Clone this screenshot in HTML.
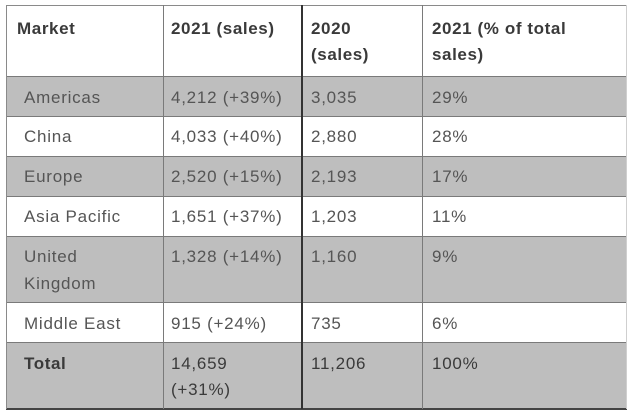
<!DOCTYPE html>
<html>
<head>
<meta charset="utf-8">
<style>
html,body{margin:0;padding:0;background:#fff;}
body{width:636px;height:415px;position:relative;overflow:hidden;font-family:"Liberation Sans",sans-serif;}
.r{position:absolute;left:7px;width:619px;}
.g{background:#bebebe;}
.h{position:absolute;left:6px;width:621px;height:1px;background:#7a7a7a;}
.v{position:absolute;width:1px;background:#7a7a7a;}
.t{position:absolute;font-size:17px;line-height:26px;letter-spacing:0.75px;color:#555;white-space:nowrap;}
.b{font-weight:bold;color:#3a3a3a;letter-spacing:0.6px;}
.d{color:#3a3a3a;}
</style>
</head>
<body>
<!-- row fills -->
<div class="r g" style="top:76px;height:40px;"></div>
<div class="r g" style="top:156px;height:40px;"></div>
<div class="r g" style="top:236px;height:66px;"></div>
<div class="r g" style="top:342px;height:66px;"></div>

<!-- horizontal lines -->
<div class="h" style="top:5px;background:#8a8a8a;"></div>
<div class="h" style="top:76px;"></div>
<div class="h" style="top:116px;"></div>
<div class="h" style="top:156px;"></div>
<div class="h" style="top:196px;"></div>
<div class="h" style="top:236px;"></div>
<div class="h" style="top:302px;"></div>
<div class="h" style="top:342px;"></div>
<div class="h" style="top:408px;height:2px;background:#444;"></div>

<!-- vertical lines -->
<div class="v" style="left:6px;top:5px;height:404px;background:#8a8a8a;"></div>
<div class="v" style="left:163px;top:5px;height:404px;"></div>
<div class="v" style="left:301px;top:5px;height:404px;width:2px;background:#333;"></div>
<div class="v" style="left:422px;top:5px;height:404px;"></div>
<div class="v" style="left:626px;top:5px;height:404px;background:#cfcfcf;"></div>

<!-- header -->
<div class="t b" style="left:17px;top:16px;">Market</div>
<div class="t b" style="left:171px;top:16px;">2021 (sales)</div>
<div class="t b" style="left:311px;top:16px;">2020</div>
<div class="t b" style="left:311px;top:42px;">(sales)</div>
<div class="t b" style="left:432px;top:16px;">2021 (% of total</div>
<div class="t b" style="left:432px;top:42px;">sales)</div>

<!-- Americas -->
<div class="t" style="left:24px;top:85px;">Americas</div>
<div class="t" style="left:171px;top:85px;">4,212 (+39%)</div>
<div class="t" style="left:311px;top:85px;">3,035</div>
<div class="t" style="left:432px;top:85px;">29%</div>

<!-- China -->
<div class="t" style="left:24px;top:124px;">China</div>
<div class="t" style="left:171px;top:124px;">4,033 (+40%)</div>
<div class="t" style="left:311px;top:124px;">2,880</div>
<div class="t" style="left:432px;top:124px;">28%</div>

<!-- Europe -->
<div class="t" style="left:24px;top:164px;">Europe</div>
<div class="t" style="left:171px;top:164px;">2,520 (+15%)</div>
<div class="t" style="left:311px;top:164px;">2,193</div>
<div class="t" style="left:432px;top:164px;">17%</div>

<!-- Asia Pacific -->
<div class="t" style="left:24px;top:204px;">Asia Pacific</div>
<div class="t" style="left:171px;top:204px;">1,651 (+37%)</div>
<div class="t" style="left:311px;top:204px;">1,203</div>
<div class="t" style="left:432px;top:204px;">11%</div>

<!-- UK -->
<div class="t" style="left:24px;top:244px;">United</div>
<div class="t" style="left:24px;top:271px;">Kingdom</div>
<div class="t" style="left:171px;top:244px;">1,328 (+14%)</div>
<div class="t" style="left:311px;top:244px;">1,160</div>
<div class="t" style="left:432px;top:244px;">9%</div>

<!-- Middle East -->
<div class="t" style="left:24px;top:311px;">Middle East</div>
<div class="t" style="left:171px;top:311px;">915 (+24%)</div>
<div class="t" style="left:311px;top:311px;">735</div>
<div class="t" style="left:432px;top:311px;">6%</div>

<!-- Total -->
<div class="t b" style="left:24px;top:351px;">Total</div>
<div class="t d" style="left:171px;top:351px;">14,659</div>
<div class="t d" style="left:171px;top:377px;">(+31%)</div>
<div class="t d" style="left:311px;top:351px;">11,206</div>
<div class="t d" style="left:432px;top:351px;">100%</div>
</body>
</html>
